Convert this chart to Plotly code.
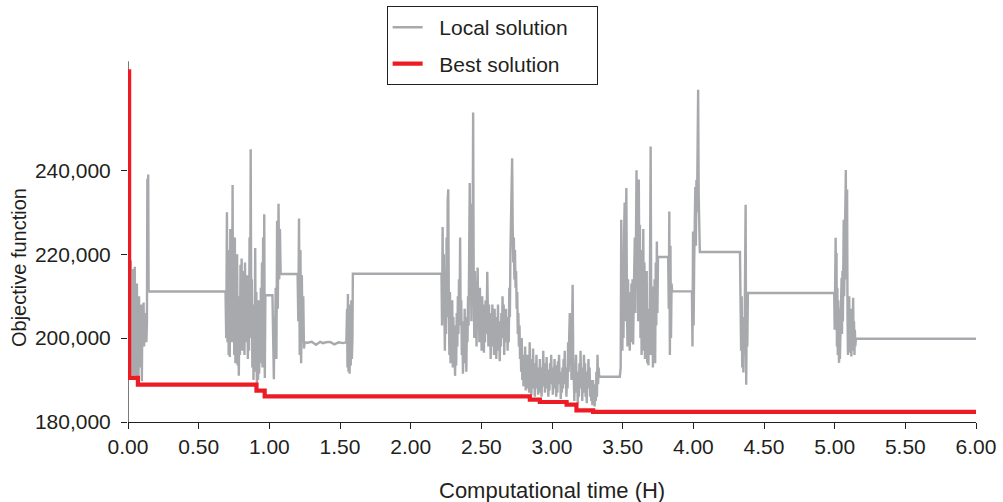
import plotly.graph_objects as go

# ---------------- data ----------------
x_tick_values = [0.0, 0.5, 1.0, 1.5, 2.0, 2.5, 3.0, 3.5, 4.0, 4.5, 5.0, 5.5, 6.0]
x_tick_labels = ["0.00", "0.50", "1.00", "1.50", "2.00", "2.50", "3.00",
                 "3.50", "4.00", "4.50", "5.00", "5.50", "6.00"]
y_tick_values = [180000, 200000, 220000, 240000]
y_tick_labels = ["180,000", "200,000", "220,000", "240,000"]
y_axis_top = 266000

# Best solution (step line)
best_time = [0.0, 0.008, 0.070, 0.909, 0.967, 2.843, 2.914, 3.103, 3.173, 3.291, 6.0]
best_value = [263600, 190500, 188900, 187460, 186100, 185320, 184770, 184120, 182770, 182400, 182400]

# Local solution, segment by segment
seg_a_time = [0.003, 0.005, 0.010, 0.013, 0.016, 0.020, 0.023, 0.026, 0.030, 0.034,
              0.038, 0.041, 0.045, 0.048, 0.052, 0.056, 0.060, 0.063, 0.067, 0.070,
              0.074, 0.078, 0.082, 0.086, 0.090, 0.094, 0.098, 0.102, 0.106, 0.110,
              0.114, 0.118, 0.122, 0.126, 0.130, 0.134, 0.137, 0.140, 0.143, 0.146,
              0.150, 0.690]
seg_a_value = [220000, 219000, 195000, 217000, 192000, 218500, 193500, 214000, 191000, 216500,
               196000, 212000, 191000, 217000, 194000, 209000, 190800, 213000, 192500, 206000,
               189800, 210000, 195000, 205000, 193000, 208000, 189700, 207000, 199000, 208500,
               198000, 206000, 200000, 205000, 199000, 204000, 238000, 212000, 239000, 211000,
               211100, 211100]

seg_b_time = [0.695, 0.700, 0.704, 0.708, 0.712, 0.716, 0.720, 0.724, 0.728, 0.732,
              0.736, 0.740, 0.744, 0.748, 0.752, 0.756, 0.760, 0.764, 0.768, 0.772,
              0.776, 0.780, 0.784, 0.788, 0.792, 0.796, 0.800, 0.804, 0.808, 0.812,
              0.816, 0.820, 0.824, 0.828, 0.832, 0.836, 0.840, 0.844, 0.848, 0.852,
              0.856, 0.860, 0.864, 0.868, 0.872, 0.876, 0.880, 0.884, 0.888, 0.892,
              0.896, 0.900, 0.904, 0.908, 0.912, 0.916, 0.920, 0.924, 0.928, 0.932,
              0.936, 0.940, 0.944, 0.948, 0.952, 0.956, 0.960, 0.964, 0.968, 0.972,
              1.022, 1.028, 1.032, 1.036, 1.040, 1.045, 1.050, 1.055, 1.060, 1.065,
              1.070, 1.075, 1.080, 1.200, 1.205, 1.210, 1.215, 1.220, 1.225, 1.230,
              1.235, 1.240, 1.245, 1.250, 1.270, 1.300, 1.330, 1.360, 1.380, 1.400,
              1.430, 1.460, 1.490, 1.520, 1.545, 1.550, 1.553, 1.556, 1.560, 1.564,
              1.568, 1.572, 1.576, 1.580, 1.584, 1.588, 1.591, 2.218]
seg_b_value = [200000, 230000, 199000, 221000, 196000, 215000, 195500, 226000, 203000, 217000,
               199000, 236500, 200000, 219000, 196000, 224000, 194000, 212000, 198000, 220000,
               193500, 210000, 191000, 206000, 196000, 217500, 201000, 219000, 197000, 216000,
               202000, 213000, 196000, 218000, 199000, 214500, 203000, 215000, 195000, 209000,
               197000, 224000, 200000, 245000, 205000, 214000, 193000, 208000, 190000, 203000,
               195000, 221500, 192000, 211000, 188500, 205000, 190000, 209000, 191500, 203000,
               194000, 212000, 196000, 218000, 193000, 224000, 198000, 229500, 190500, 210200,
               210200, 199000, 190200, 205000, 198000, 212000, 195000, 228000, 207000, 232000,
               214000, 226000, 215300, 215300, 204000, 228500, 196000, 221000, 194000, 215000,
               199000, 210000, 197500, 199000, 198900, 199100, 198400, 199100, 198800, 199000,
               199100, 198500, 199000, 198800, 199000, 207000, 193000, 210500, 192000, 208000,
               191500, 204000, 193500, 209000, 195000, 200000, 215350, 215350]

seg_c_time = [2.222, 2.226, 2.230, 2.234, 2.238, 2.242, 2.246, 2.250, 2.254, 2.258,
              2.262, 2.266, 2.270, 2.274, 2.278, 2.282, 2.286, 2.290, 2.294, 2.298,
              2.302, 2.306, 2.310, 2.314, 2.318, 2.322, 2.326, 2.330, 2.334, 2.338,
              2.342, 2.346, 2.350, 2.354, 2.358, 2.362, 2.366, 2.370, 2.374, 2.378,
              2.382, 2.386, 2.390, 2.394, 2.398, 2.402, 2.406, 2.410, 2.414, 2.418,
              2.422, 2.426, 2.430, 2.434, 2.438, 2.442, 2.446, 2.450, 2.454, 2.458,
              2.462, 2.466, 2.470, 2.474, 2.478, 2.482, 2.486, 2.490, 2.494, 2.498,
              2.502, 2.506, 2.510, 2.514, 2.518, 2.522, 2.526, 2.530, 2.534, 2.538,
              2.542, 2.546, 2.550, 2.554, 2.558, 2.562, 2.566, 2.570, 2.574, 2.578,
              2.582, 2.586, 2.590, 2.594, 2.598, 2.602, 2.606, 2.610, 2.614, 2.618,
              2.622, 2.626, 2.630, 2.634, 2.638, 2.642, 2.646, 2.650, 2.654, 2.658,
              2.662, 2.666, 2.670, 2.674, 2.678, 2.682, 2.686, 2.690, 2.694, 2.698,
              2.702, 2.706, 2.710, 2.714, 2.718, 2.722, 2.726, 2.730, 2.734, 2.738,
              2.742, 2.746, 2.750, 2.754, 2.758, 2.762, 2.766, 2.770, 2.774, 2.778,
              2.782, 2.786, 2.790, 2.794, 2.798, 2.802, 2.806, 2.810, 2.814, 2.818,
              2.822, 2.826, 2.830, 2.834, 2.838, 2.842, 2.846, 2.850, 2.854, 2.858,
              2.862, 2.866, 2.870, 2.874, 2.878, 2.882, 2.886, 2.890, 2.894, 2.898,
              2.902, 2.906, 2.910, 2.914, 2.918, 2.922, 2.926, 2.930, 2.934, 2.938,
              2.942, 2.946, 2.950, 2.954, 2.958, 2.962, 2.966, 2.970, 2.974, 2.978,
              2.982, 2.986, 2.990, 2.994, 2.998, 3.002, 3.006, 3.010, 3.014, 3.018,
              3.022, 3.026, 3.030, 3.034, 3.038, 3.042, 3.046, 3.050, 3.054, 3.058,
              3.062, 3.066, 3.070, 3.074, 3.078, 3.082, 3.086, 3.090, 3.094, 3.098,
              3.102, 3.106, 3.110, 3.114, 3.118, 3.122, 3.126, 3.130, 3.134, 3.138,
              3.142, 3.146, 3.150, 3.154, 3.158, 3.162, 3.166, 3.170, 3.174, 3.178,
              3.182, 3.186, 3.190, 3.194, 3.198, 3.202, 3.206, 3.210, 3.214, 3.218,
              3.222, 3.226, 3.230, 3.234, 3.238, 3.242, 3.246, 3.250, 3.254, 3.258,
              3.262, 3.266, 3.270, 3.274, 3.278, 3.282, 3.286, 3.290, 3.294, 3.298,
              3.302, 3.306, 3.310, 3.314, 3.318, 3.322, 3.326, 3.330, 3.334]
seg_c_value = [203000, 226500, 205000, 220000, 199000, 197000, 212000, 201000, 224000, 205000,
               233000, 235500, 208000, 196000, 211000, 194000, 207000, 198000, 209000, 193000,
               205000, 196000, 203000, 191000, 200000, 193500, 206000, 198000, 210000, 201000,
               214000, 204000, 224000, 203000, 209000, 196000, 204000, 191500, 199000, 194000,
               207000, 196000, 202000, 192000, 205000, 199000, 210000, 203000, 228000, 237000,
               210000, 219000, 204000, 232000, 218000, 253800, 214000, 200000, 216000, 205000,
               212000, 198000, 209000, 216800, 203000, 211000, 199000, 212000, 202000, 207000,
               197000, 210000, 200000, 208000, 196500, 206000, 199000, 209000, 201000, 204000,
               215800, 205000, 198000, 208000, 200000, 206000, 195000, 204000, 198000, 208000,
               201000, 205000, 196000, 207000, 199000, 203000, 195000, 205000, 200000, 208000,
               197000, 204000, 194500, 202000, 198000, 206000, 200000, 210000, 203000, 208000,
               196000, 204000, 199000, 207000, 201000, 205000, 197000, 203000, 199000, 212000,
               205000, 221000, 232000, 238000, 242900, 226000, 218000, 224000, 214000, 221000,
               212000, 216000, 207000, 211000, 201000, 206000, 198000, 203000, 195000, 199000,
               192000, 200000, 190000, 196000, 188500, 195000, 190000, 198000, 187500, 194000,
               189000, 196000, 188000, 193000, 187000, 199000, 190000, 195000, 186500, 192000,
               188000, 197500, 190000, 194000, 186000, 191000, 188000, 196000, 189000, 193000,
               186500, 190500, 187000, 195000, 189500, 193000, 186000, 191000, 188500, 197000,
               190000, 194000, 187000, 192000, 189000, 195500, 188000, 192500, 186000, 190000,
               187500, 194000, 189000, 196000, 190500, 193000, 186500, 191000, 188000, 195000,
               189000, 193500, 186000, 190000, 187000, 194500, 190000, 196000, 189000, 192000,
               185500, 190000, 187000, 193000, 188000, 195000, 190000, 197000, 189000, 193000,
               186000, 191000, 188000, 199000, 192000, 201000, 206000, 194000, 198000, 190000,
               203000, 212700, 196000, 191000, 185000, 193000, 188000, 196000, 187000, 192000,
               184500, 190000, 186000, 194000, 188000, 197000, 189000, 193000, 185000, 191000,
               187000, 196000, 190000, 194000, 186000, 190000, 184500, 192000, 188000, 195000,
               189000, 193000, 186000, 190000, 185000, 188000, 184000, 190000, 186000, 189000,
               183700, 188000, 185000, 192000, 186000, 196000, 189000, 193000, 190800]

seg_d_time = [3.480, 3.486, 3.490, 3.494, 3.498, 3.502, 3.506, 3.510, 3.514, 3.518,
              3.522, 3.526, 3.530, 3.534, 3.538, 3.542, 3.546, 3.550, 3.554, 3.558,
              3.562, 3.566, 3.570, 3.574, 3.578, 3.582, 3.586, 3.590, 3.594, 3.598,
              3.602, 3.606, 3.610, 3.614, 3.618, 3.622, 3.626, 3.630, 3.634, 3.638,
              3.642, 3.646, 3.650, 3.654, 3.658, 3.662, 3.666, 3.670, 3.674, 3.678,
              3.682, 3.686, 3.690, 3.694, 3.698, 3.702, 3.706, 3.710, 3.714, 3.718,
              3.722, 3.726, 3.730, 3.734, 3.738, 3.742, 3.746, 3.750, 3.822, 3.826,
              3.830, 3.834, 3.838, 3.842, 3.846, 3.850, 3.990, 3.994, 3.998, 4.002,
              4.006, 4.010, 4.014, 4.018, 4.022, 4.026, 4.030, 4.034, 4.038, 4.042,
              4.046, 4.330, 4.334, 4.338, 4.342, 4.346, 4.350, 4.354, 4.358, 4.362,
              4.366, 4.370, 4.374, 4.378, 4.382, 4.386, 4.997]
seg_d_value = [190800, 193000, 228200, 205000, 197000, 212000, 200000, 224000, 232300, 204000,
               219000, 235800, 209000, 198000, 214000, 201000, 211000, 197000, 208000, 199000,
               213000, 203000, 214000, 198500, 209000, 219000, 224000, 206000, 238000, 240000,
               212000, 231000, 204000, 237800, 215000, 227000, 200000, 221000, 196000, 214000,
               202000, 226000, 197000, 218000, 195000, 210000, 199000, 216000, 194000, 207000,
               193500, 205000, 196000, 213000, 245700, 208000, 196000, 212300, 193000, 205000,
               199000, 214000, 194000, 218000, 203000, 223000, 206000, 219340, 219340, 207000,
               230200, 196000, 222000, 200000, 213000, 211140, 211140, 198000, 225400, 203000,
               218000, 228000, 236000, 222000, 237700, 230000, 243000, 259200, 234000, 224000,
               220530, 220530, 213000, 197000, 210000, 193000, 205000, 191800, 203000, 196000,
               215600, 231800, 188900, 206000, 198000, 210750, 210750]

seg_e_time = [5.000, 5.004, 5.007, 5.010, 5.013, 5.016, 5.019, 5.022, 5.025, 5.028,
              5.031, 5.034, 5.037, 5.040, 5.043, 5.046, 5.049, 5.052, 5.055, 5.058,
              5.061, 5.064, 5.067, 5.070, 5.073, 5.076, 5.079, 5.082, 5.085, 5.088,
              5.091, 5.094, 5.097, 5.100, 5.103, 5.106, 5.109, 5.112, 5.115, 5.118,
              5.121, 5.124, 5.128, 5.131, 5.134, 5.137, 5.140, 5.143, 5.146, 5.150,
              6.000]
seg_e_value = [202000, 215000, 223900, 205000, 220300, 198000, 212000, 196000, 209000, 199000,
               194100, 207000, 195000, 203000, 198000, 210000, 214300, 201000, 216000, 204000,
               221000, 228200, 210000, 218000, 226000, 232000, 240100, 214000, 226000, 235400,
               205000, 196000, 208000, 199000, 210000, 196500, 205000, 200000, 207000, 195600,
               203000, 198000, 205000, 209600, 197000, 204000, 196000, 202000, 198000, 199860,
               199860]

local_time = seg_a_time + seg_b_time + seg_c_time + seg_d_time + seg_e_time
local_value = seg_a_value + seg_b_value + seg_c_value + seg_d_value + seg_e_value
assert len(local_time) == len(local_value), (len(local_time), len(local_value))

# ---------------- figure ----------------
INK = "#231f20"
FONT = "Liberation Sans, Arial, Helvetica, sans-serif"
LEAD = "\u00a0" * 2
TRAIL = "\u00a0" * 4

fig = go.Figure()
fig.add_trace(go.Scatter(
    x=local_time, y=local_value, mode="lines", name=LEAD + "Local solution" + TRAIL,
    legendgroup="local", line=dict(color="#a7a9ac", width=2.4),
    hoverinfo="skip"))
fig.add_trace(go.Scatter(
    x=best_time, y=best_value, mode="lines", name=LEAD + "Best solution" + TRAIL,
    legendgroup="best", line=dict(color="#ed1c24", width=4.2, shape="hv"),
    hoverinfo="skip"))

# plot area spans nearly the whole height so the legend sits inside it;
# the visible y axis line is drawn only up to y_axis_top
fig.update_layout(
    width=1003, height=502,
    margin=dict(l=128, r=27, t=4, b=80),
    plot_bgcolor="white", paper_bgcolor="white",
    font=dict(family=FONT, size=21, color=INK),
    showlegend=True,
    legend=dict(x=0.305, y=0.995, xanchor="left", yanchor="top",
                bgcolor="white", bordercolor=INK, borderwidth=1,
                tracegroupgap=6, traceorder="grouped",
                font=dict(family=FONT, size=21, color=INK)),
    shapes=[dict(type="line", xref="x", yref="y", x0=0, x1=0,
                 y0=180000, y1=y_axis_top, line=dict(color=INK, width=1.2),
                 layer="below")],
    annotations=[
        dict(text="Computational time (H)", xref="paper", yref="paper",
             x=0.5, y=-0.1627, xanchor="center", yanchor="middle", showarrow=False,
             font=dict(family=FONT, size=22, color=INK)),
        dict(text="Objective function", xref="paper", yref="paper",
             x=-0.1285, y=0.3684, xanchor="center", yanchor="middle", showarrow=False,
             textangle=-90, font=dict(family=FONT, size=20, color=INK)),
    ],
)
fig.update_xaxes(
    range=[0, 6], tickvals=x_tick_values, ticktext=x_tick_labels,
    showline=True, linecolor=INK, linewidth=1.2, mirror=False,
    ticks="outside", ticklen=6, tickcolor=INK, tickwidth=1.2,
    showgrid=False, zeroline=False, automargin=False,
)
fig.update_yaxes(
    range=[180000, 279650], tickvals=y_tick_values, ticktext=y_tick_labels,
    showline=False,
    ticks="outside", ticklen=6, tickcolor=INK, tickwidth=1.2,
    ticklabelstandoff=6,
    showgrid=False, zeroline=False, automargin=False,
)

fig.write_html("out.html", config={"displayModeBar": False},
               post_script="document.body.style.margin='0px';document.body.style.overflow='hidden';")
